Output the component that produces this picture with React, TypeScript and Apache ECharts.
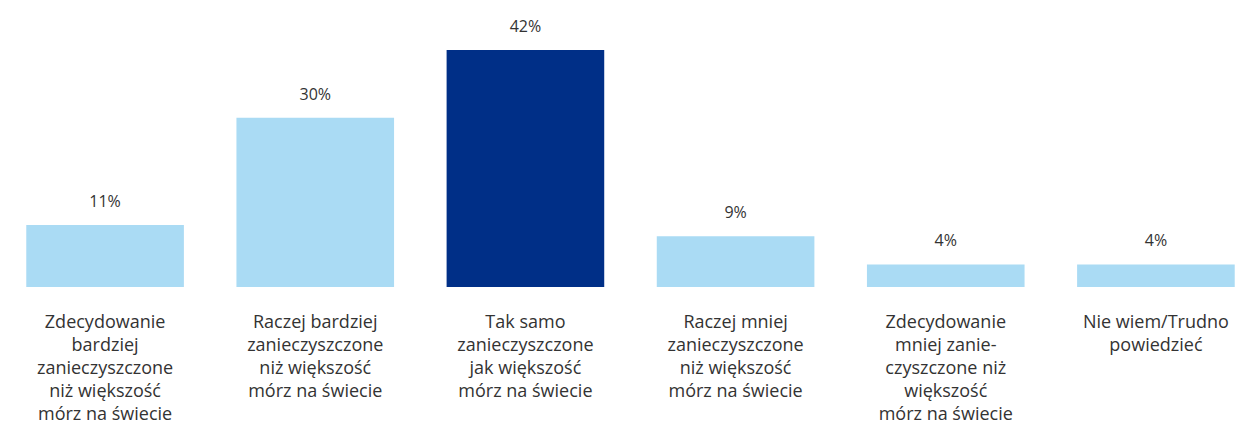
import React, { useEffect, useRef } from "react";
import * as echarts from "echarts";

const categories: string[] = [
  "Zdecydowanie\nbardziej\nzanieczyszczone\nniż większość\nmórz na świecie",
  "Raczej bardziej\nzanieczyszczone\nniż większość\nmórz na świecie",
  "Tak samo\nzanieczyszczone\njak większość\nmórz na świecie",
  "Raczej mniej\nzanieczyszczone\nniż większość\nmórz na świecie",
  "Zdecydowanie\nmniej zanie-\nczyszczone niż\nwiększość\nmórz na świecie",
  "Nie wiem/Trudno\npowiedzieć",
];
const values: number[] = [11, 30, 42, 9, 4, 4];
const highlightIndex = 2;

const LIGHT = "#AADBF4";
const DARK = "#002F87";
const FONT = "'Open Sans', 'Noto Sans', sans-serif";

export default function App() {
  const ref = useRef<HTMLDivElement>(null);
  useEffect(() => {
    if (!ref.current) return;
    const chart = echarts.init(ref.current, null, { renderer: "svg" });
    chart.setOption({
      animation: false,
      backgroundColor: "#ffffff",
      grid: {
        left: 0,
        right: -25,
        top: 50,
        bottom: 143,
        containLabel: false,
        outerBoundsMode: "none",
      },
      xAxis: {
        type: "category",
        data: categories,
        axisLine: { show: false },
        axisTick: { show: false },
        axisLabel: {
          interval: 0,
          margin: 22,
          color: "#333333",
          fontSize: 18,
          lineHeight: 23,
          fontFamily: FONT,
          verticalAlign: "top",
          hideOverlap: false,
        },
      },
      yAxis: {
        type: "value",
        min: 0,
        max: 42,
        show: false,
        splitLine: { show: false },
      },
      series: [
        {
          type: "bar",
          barWidth: "75%",
          data: values.map((v, i) => ({
            value: v,
            itemStyle: { color: i === highlightIndex ? DARK : LIGHT },
          })),
          label: {
            show: true,
            position: "top",
            distance: 16,
            formatter: "{c}%",
            color: "#333333",
            fontSize: 16,
            fontFamily: FONT,
          },
        },
      ],
    });
    return () => chart.dispose();
  }, []);
  return (
    <div
      ref={ref}
      style={{ position: "fixed", left: 0, top: 0, width: 1236, height: 430 }}
    />
  );
}
